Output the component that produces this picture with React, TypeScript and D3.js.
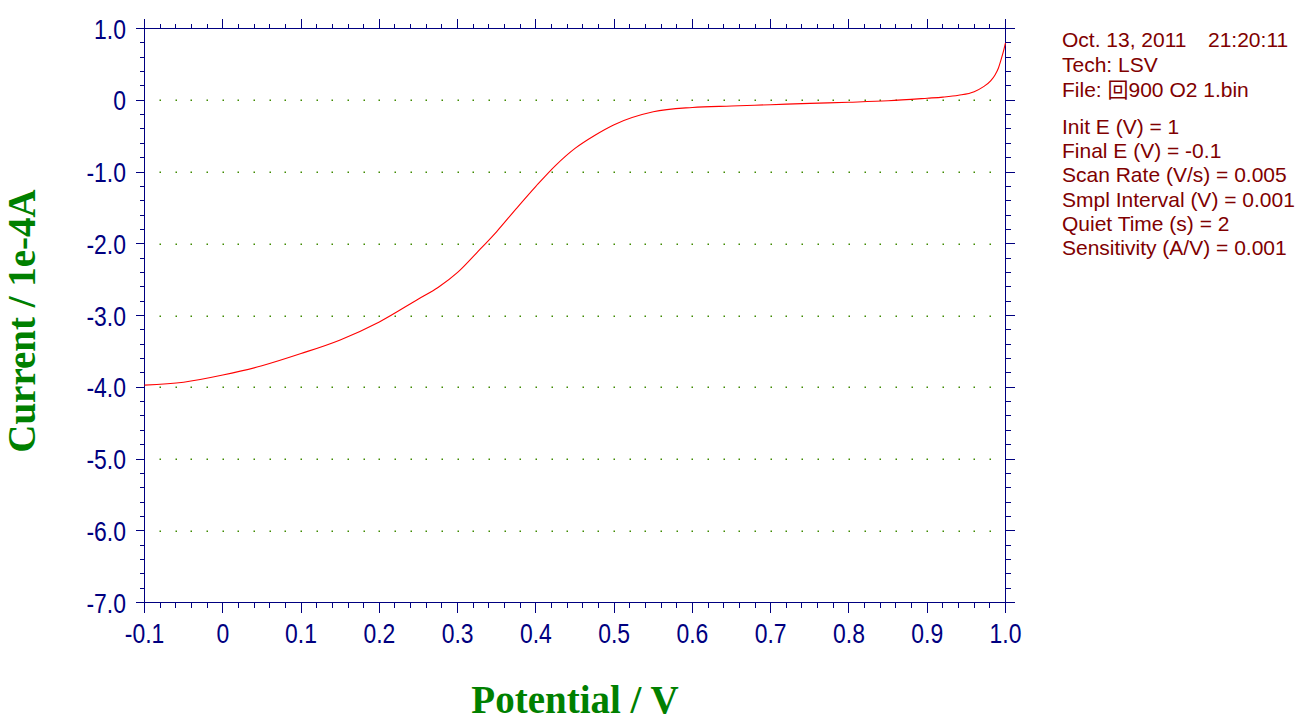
import React from "react";
import * as d3 from "d3";

// ---- data ----
const potential = [
  -0.1, -0.05, 0.0, 0.05, 0.1, 0.15, 0.2, 0.25, 0.275, 0.3,
  0.325, 0.35, 0.375, 0.4, 0.425, 0.45, 0.475, 0.5, 0.55, 0.6,
  0.65, 0.7, 0.75, 0.8, 0.85, 0.9, 0.92, 0.94, 0.96, 0.972,
  0.981, 0.987, 0.991, 0.995, 0.998, 1.0,
];
const current = [
  -3.97, -3.93, -3.83, -3.7, -3.53, -3.34, -3.09, -2.77, -2.61, -2.4,
  -2.12, -1.83, -1.51, -1.2, -0.91, -0.67, -0.49, -0.34, -0.16, -0.1,
  -0.08, -0.062, -0.044, -0.028, -0.008, 0.028, 0.044, 0.07, 0.12, 0.19,
  0.27, 0.36, 0.45, 0.59, 0.71, 0.8,
];

const xTickValues = [-0.1, 0, 0.1, 0.2, 0.3, 0.4, 0.5, 0.6, 0.7, 0.8, 0.9, 1.0];
const xTickLabels = ["-0.1", "0", "0.1", "0.2", "0.3", "0.4", "0.5", "0.6", "0.7", "0.8", "0.9", "1.0"];
const yTickValues = [1, 0, -1, -2, -3, -4, -5, -6, -7];
const yTickLabels = ["1.0", "0", "-1.0", "-2.0", "-3.0", "-4.0", "-5.0", "-6.0", "-7.0"];

const infoTop = ["Tech: LSV", "File: 回900 O2 1.bin"];
const infoDate = "Oct. 13, 2011";
const infoTime = "21:20:11";
const infoParams = [
  "Init E (V) = 1",
  "Final E (V) = -0.1",
  "Scan Rate (V/s) = 0.005",
  "Smpl Interval (V) = 0.001",
  "Quiet Time (s) = 2",
  "Sensitivity (A/V) = 0.001",
];

const xTitle = "Potential / V";
const yTitle = "Current / 1e-4A";

// ---- layout ----
const W = 1310;
const H = 727;
const left = 144.5;
const right = 1005.5;
const top = 28.5;
const bottom = 602.5;

const NAVY = "#000080";
const GREEN = "#008000";
const DOT = "#3f8a00";
const DARKRED = "#800000";

export default function App() {
  const x = d3.scaleLinear().domain([-0.1, 1.0]).range([left, right]);
  const y = d3.scaleLinear().domain([-7, 1]).range([bottom, top]);

  const xMinor = d3.range(-5, 51).map((k) => k / 50);
  const yMinor = d3.range(-35, 6).map((k) => k / 5);
  const dotX = d3.range(-4, 50).map((k) => k / 50);
  const dotY = [0, -1, -2, -3, -4, -5, -6];

  const pts = potential.map((p, i) => [p, current[i]] as [number, number]);
  const line = d3
    .line<[number, number]>()
    .x((d) => x(d[0]))
    .y((d) => y(d[1]))
    .curve(d3.curveMonotoneX);

  const tickFont = "'Liberation Sans', Arial, sans-serif";
  const scaleX = 0.85;
  const fs = 27;

  return (
    <svg
      width={W}
      height={H}
      style={{ position: "absolute", left: 0, top: 0, background: "#fff" }}
    >
      <rect x={0} y={0} width={W} height={H} fill="#fff" />
      {/* grid dots */}
      <g fill={DOT}>
        {dotY.map((v) =>
          dotX.map((u) => (
            <rect
              key={`d${v}_${u}`}
              x={Math.round(x(u)) - 0.5}
              y={Math.round(y(v)) - 0.5}
              width={1.5}
              height={1.5}
            />
          ))
        )}
      </g>

      {/* frame */}
      <g stroke={NAVY} strokeWidth={1} fill="none" shapeRendering="crispEdges">
        <line x1={left} x2={right} y1={top} y2={top} />
        <line x1={left} x2={right} y1={bottom} y2={bottom} />
        <line x1={left} x2={left} y1={top} y2={bottom} />
        <line x1={right} x2={right} y1={top} y2={bottom} />
        {xMinor.map((u) => (
          <g key={`xm${u}`}>
            <line x1={x(u)} x2={x(u)} y1={bottom} y2={bottom + 5} />
            <line x1={x(u)} x2={x(u)} y1={top} y2={top - 5} />
          </g>
        ))}
        {xTickValues.map((u) => (
          <g key={`xM${u}`}>
            <line x1={x(u)} x2={x(u)} y1={bottom} y2={bottom + 10} />
            <line x1={x(u)} x2={x(u)} y1={top} y2={top - 10} />
          </g>
        ))}
        {yMinor.map((v) => (
          <g key={`ym${v}`}>
            <line x1={left} x2={left - 5} y1={y(v)} y2={y(v)} />
            <line x1={right} x2={right + 5} y1={y(v)} y2={y(v)} />
          </g>
        ))}
        {yTickValues.map((v) => (
          <g key={`yM${v}`}>
            <line x1={left} x2={left - 9} y1={y(v)} y2={y(v)} />
            <line x1={right} x2={right + 9} y1={y(v)} y2={y(v)} />
          </g>
        ))}
      </g>

      {/* tick labels */}
      <g fill={NAVY} fontFamily={tickFont} fontSize={fs}>
        {xTickValues.map((u, i) => (
          <text
            key={`xl${u}`}
            textAnchor="middle"
            transform={`translate(${x(u)},${643}) scale(${scaleX},1)`}
          >
            {xTickLabels[i]}
          </text>
        ))}
        {yTickValues.map((v, i) => (
          <text
            key={`yl${v}`}
            textAnchor="end"
            transform={`translate(${126},${y(v) + 10}) scale(${scaleX},1)`}
          >
            {yTickLabels[i]}
          </text>
        ))}
      </g>

      {/* data */}
      <path d={line(pts) || ""} fill="none" stroke="#ff0000" strokeWidth={1.1} />

      {/* axis titles */}
      <text
        x={575}
        y={713}
        textAnchor="middle"
        fill={GREEN}
        fontFamily="'Liberation Serif', 'Times New Roman', serif"
        fontWeight="bold"
        fontSize={39}
      >
        {xTitle}
      </text>
      <text
        transform={`translate(35,321) rotate(-90)`}
        textAnchor="middle"
        fill={GREEN}
        fontFamily="'Liberation Serif', 'Times New Roman', serif"
        fontWeight="bold"
        fontSize={39}
      >
        {yTitle}
      </text>

      {/* info block */}
      <g
        fill={DARKRED}
        fontFamily="'Liberation Sans', Arial, 'Noto Sans CJK SC', sans-serif"
        fontSize={21}
      >
        <text x={1062} y={47}>{infoDate}</text>
        <text x={1208} y={47}>{infoTime}</text>
        {infoTop.map((t, i) => (
          <text key={t} x={1062} y={72 + i * 25}>
            {t}
          </text>
        ))}
        {infoParams.map((t, i) => (
          <text key={t} x={1062} y={134 + i * 24.2}>
            {t}
          </text>
        ))}
      </g>
    </svg>
  );
}
